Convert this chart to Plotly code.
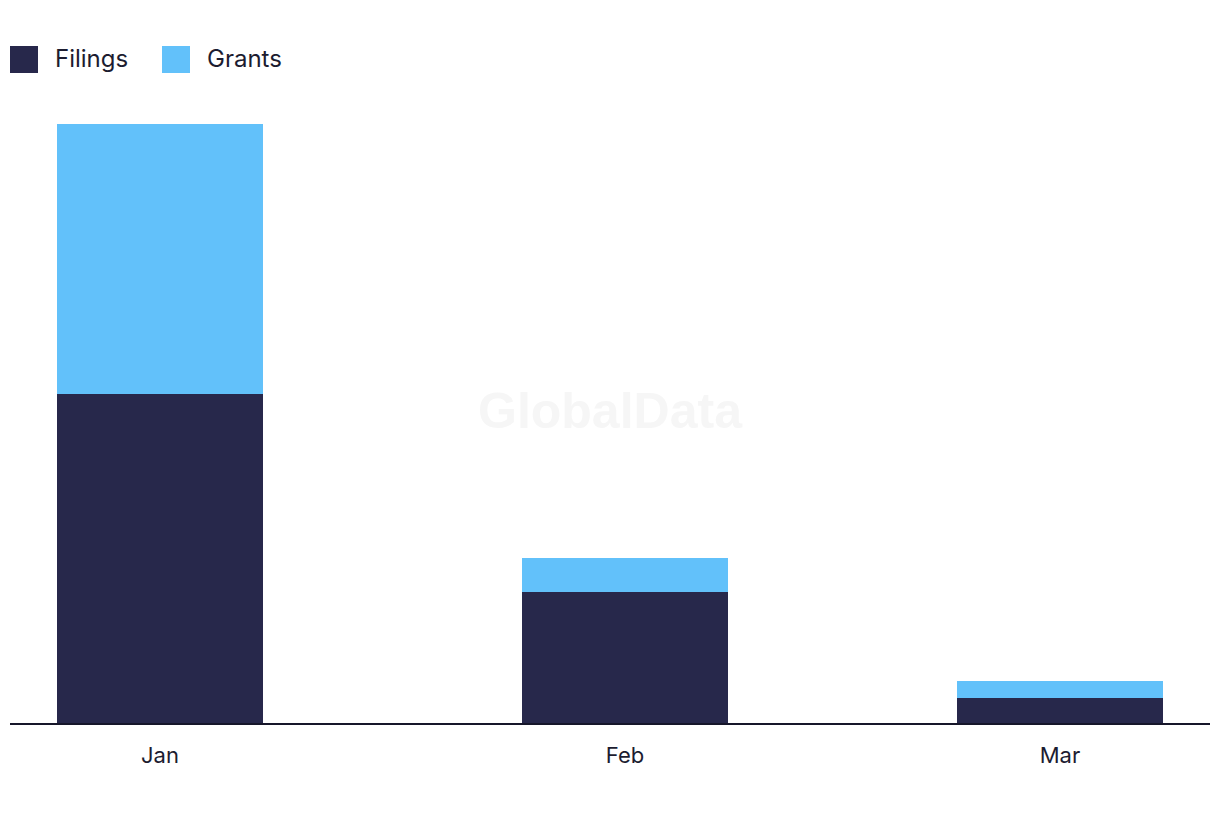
import plotly.graph_objects as go

months = ["2024-01-01", "2024-02-01", "2024-03-01"]
month_labels = ["Jan", "Feb", "Mar"]
filings = [78, 31, 6]
grants = [64, 8, 4]

DARK = "#27284b"
LIGHT = "#62c1fa"
TEXT = "#1c1c30"
FONT = "Inter"

bar_width_ms = 13.73 * 86400000

fig = go.Figure()
fig.add_trace(go.Bar(x=months, y=filings, name="Filings", marker_color=DARK,
                     marker_line_width=0, width=bar_width_ms, showlegend=False))
fig.add_trace(go.Bar(x=months, y=grants, name="Grants", marker_color=LIGHT,
                     marker_line_width=0, width=bar_width_ms, showlegend=False))

# custom legend
legend_items = [("Filings", DARK, 10, 53), ("Grants", LIGHT, 162, 205)]
shapes = []
annotations = []
for name, col, sx, tx in legend_items:
    shapes.append(dict(type="rect", xref="paper", yref="paper",
                       x0=(sx - 10) / 1200, x1=(sx + 18) / 1200,
                       y0=(723 - 73) / 633, y1=(723 - 46) / 633,
                       fillcolor=col, line_width=0, layer="above"))
    annotations.append(dict(text=name, xref="paper", yref="paper",
                            x=(tx - 10) / 1200, y=(723 - 58) / 633,
                            xanchor="left", yanchor="middle", showarrow=False,
                            font=dict(family=FONT, size=24, color=TEXT)))

annotations.append(dict(text="<b>GlobalData</b>", xref="paper", yref="paper",
                        x=(610 - 10) / 1200, y=(723 - 411) / 633,
                        xanchor="center", yanchor="middle", showarrow=False,
                        font=dict(family="Liberation Sans", size=50, color="#f6f6f6")))

fig.update_layout(
    width=1220, height=822,
    margin=dict(l=10, r=10, t=90, b=99),
    barmode="stack",
    plot_bgcolor="white", paper_bgcolor="white",
    shapes=shapes, annotations=annotations,
    showlegend=False,
    xaxis=dict(type="date", range=["2023-12-22", "2024-03-11"],
               tickvals=months, ticktext=month_labels,
               showgrid=False, zeroline=False, showline=True,
               linecolor="#16162a", linewidth=2, ticks="",
               tickfont=dict(family=FONT, size=22, color=TEXT),
               ticklabelstandoff=12),
    yaxis=dict(range=[0, 150], visible=False, showgrid=False, zeroline=False),
)

fig.write_html("out.html")
